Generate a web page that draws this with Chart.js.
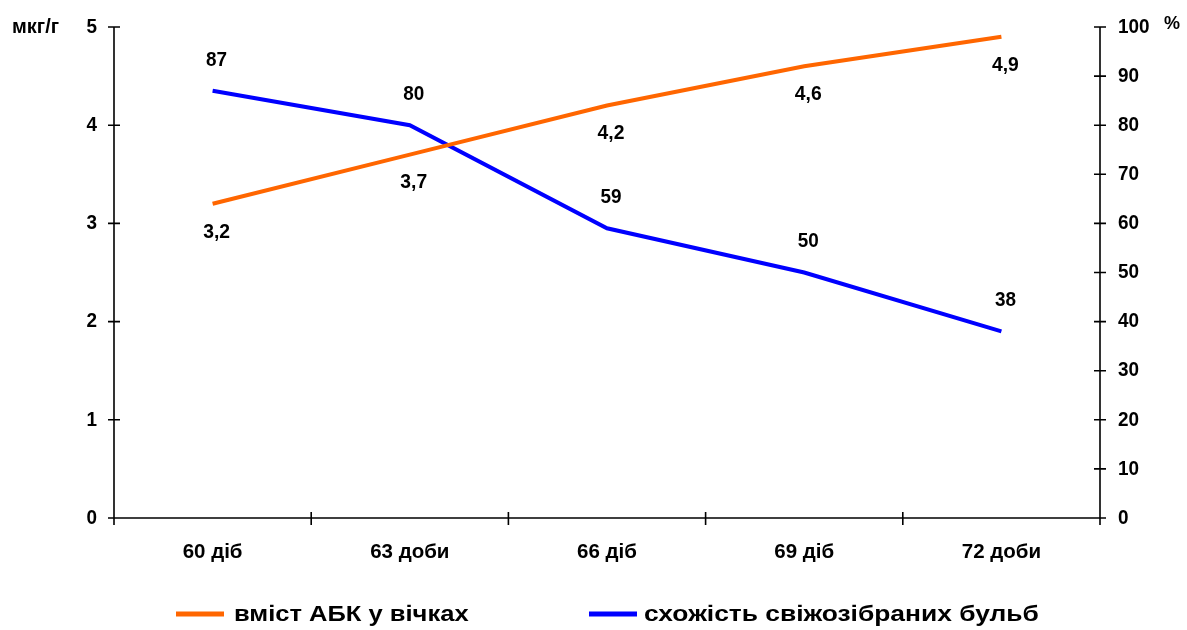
<!DOCTYPE html>
<html>
<head>
<meta charset="utf-8">
<script src="https://cdn.jsdelivr.net/npm/chart.js@4"></script>
<style>
  html, body { margin: 0; padding: 0; background: #fff; }
  #wrap { width: 1187px; height: 630px; position: relative; }
</style>
</head>
<body>
<div id="wrap"><canvas id="c" width="1187" height="630"></canvas></div>
<script>
// Periods after planting
const categories = ['60 діб', '63 доби', '66 діб', '69 діб', '72 доби'];
// ABA content in tuber eyes, мкг/г (left axis)
const abkContent = [3.2, 3.7, 4.2, 4.6, 4.9];
// Germination of freshly harvested tubers, % (right axis)
const germination = [87, 80, 59, 50, 38];

const seriesNames = ['вміст АБК у вічках', 'схожість свіжозібраних бульб'];
const leftUnit = 'мкг/г';
const rightUnit = '%';

const FONT = '"Liberation Sans", Arial, sans-serif';

// Draw text with a horizontal scale factor (tall, narrow bold look)
function drawText(ctx, text, x, y, size, sx, align) {
  ctx.save();
  ctx.font = 'bold ' + size + 'px ' + FONT;
  ctx.textBaseline = 'middle';
  ctx.textAlign = align;
  ctx.translate(x, y);
  ctx.scale(sx, 1);
  ctx.fillText(text, 0, 0);
  ctx.restore();
}

// Axis lines with crossing tick marks, tick labels, data labels, unit captions and legend
const decorations = {
  id: 'decorations',
  afterDatasetsDraw(chart) {
    const ctx = chart.ctx;
    const ca = chart.chartArea;
    const x = chart.scales.x, yl = chart.scales.y, yr = chart.scales.y1;
    ctx.save();
    ctx.strokeStyle = '#000';
    ctx.lineWidth = 1.6;
    ctx.beginPath();
    ctx.moveTo(ca.left, ca.top); ctx.lineTo(ca.left, ca.bottom); ctx.lineTo(ca.right, ca.bottom); ctx.lineTo(ca.right, ca.top);
    yl.ticks.forEach(t => { const p = yl.getPixelForValue(t.value); ctx.moveTo(ca.left - 6, p); ctx.lineTo(ca.left + 6, p); });
    yr.ticks.forEach(t => { const p = yr.getPixelForValue(t.value); ctx.moveTo(ca.right - 6, p); ctx.lineTo(ca.right + 6, p); });
    for (let i = 0; i <= categories.length; i++) {
      let p;
      if (i === 0) p = ca.left; else if (i === categories.length) p = ca.right;
      else p = (x.getPixelForValue(i - 1) + x.getPixelForValue(i)) / 2;
      ctx.moveTo(p, ca.bottom - 6); ctx.lineTo(p, ca.bottom + 7);
    }
    ctx.stroke();

    ctx.fillStyle = '#000';
    // tick labels
    yl.ticks.forEach(t => drawText(ctx, String(t.value), ca.left - 17, yl.getPixelForValue(t.value), 21, 0.9, 'right'));
    yr.ticks.forEach(t => drawText(ctx, String(t.value), ca.right + 18, yr.getPixelForValue(t.value), 21, 0.9, 'left'));
    categories.forEach((c, i) => drawText(ctx, c, x.getPixelForValue(i), ca.bottom + 34, 20.5, 1, 'center'));

    // data labels
    chart.getDatasetMeta(0).data.forEach((pt, i) => {
      drawText(ctx, String(abkContent[i]).replace('.', ','), pt.x + 4, pt.y + 28, 21, 0.92, 'center');
    });
    chart.getDatasetMeta(1).data.forEach((pt, i) => {
      drawText(ctx, String(germination[i]), pt.x + 4, pt.y - 31, 21, 0.9, 'center');
    });

    // unit captions
    drawText(ctx, leftUnit, 12, 27, 20, 1, 'left');
    drawText(ctx, rightUnit, 1164, 24, 18, 1, 'left');

    // legend
    const items = [{ x: 176, tx: 234, sx: 1.16 }, { x: 589, tx: 644, sx: 1.2 }];
    const ly = 615;
    chart.data.datasets.forEach((ds, i) => {
      ctx.strokeStyle = ds.borderColor;
      ctx.lineWidth = 5;
      ctx.beginPath();
      ctx.moveTo(items[i].x, ly - 1); ctx.lineTo(items[i].x + 48, ly - 1);
      ctx.stroke();
      drawText(ctx, ds.label, items[i].tx, ly, 22, items[i].sx, 'left');
    });
    ctx.restore();
  }
};

new Chart(document.getElementById('c'), {
  type: 'line',
  data: {
    labels: categories,
    datasets: [
      { label: seriesNames[0], data: abkContent, yAxisID: 'y', borderColor: '#FF6600', borderWidth: 4, pointRadius: 0, tension: 0, fill: false },
      { label: seriesNames[1], data: germination, yAxisID: 'y1', borderColor: '#0000FF', borderWidth: 4, pointRadius: 0, tension: 0, fill: false }
    ]
  },
  options: {
    responsive: false,
    animation: false,
    devicePixelRatio: 1,
    layout: { padding: { top: 27, right: 0, bottom: 0, left: 0 } },
    plugins: { legend: { display: false }, tooltip: { enabled: false } },
    scales: {
      x: {
        offset: true,
        grid: { display: false },
        border: { display: false },
        ticks: { display: false },
        afterFit(s) { s.height = 112; }
      },
      y: {
        position: 'left', min: 0, max: 5,
        grid: { display: false },
        border: { display: false },
        ticks: { stepSize: 1, display: false },
        afterFit(s) { s.width = 114; }
      },
      y1: {
        position: 'right', min: 0, max: 100,
        grid: { display: false },
        border: { display: false },
        ticks: { stepSize: 10, display: false },
        afterFit(s) { s.width = 87; }
      }
    }
  },
  plugins: [decorations]
});
</script>
</body>
</html>
